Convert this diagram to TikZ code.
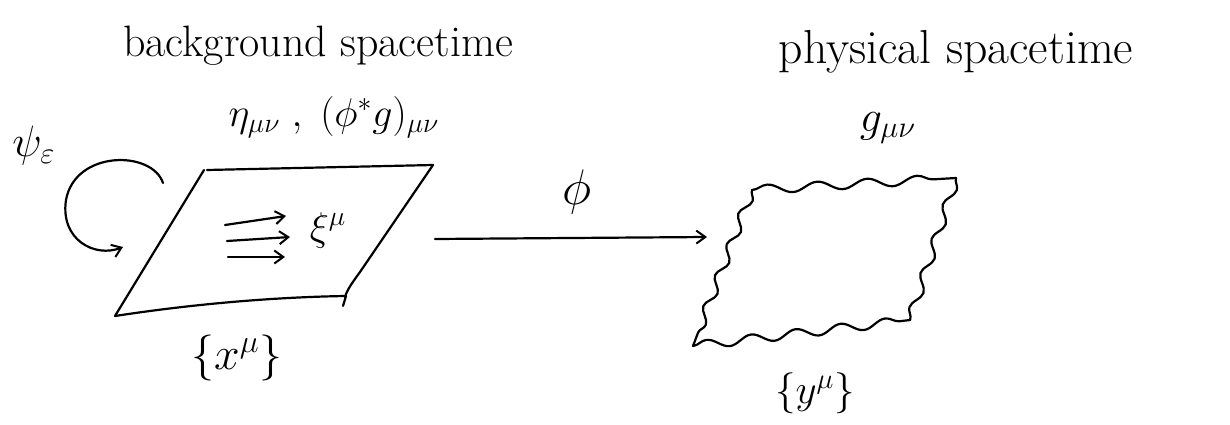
\documentclass[tikz,border=0pt]{standalone}
\usetikzlibrary{arrows.meta,decorations.pathmorphing}
\newcommand{\bigtxt}[2]{\scalebox{#1}{\huge #2}}
\begin{document}
\begin{tikzpicture}[x=1pt,y=-1pt,
  pen/.style={line width=2.2pt,line cap=round,line join=round},
  arr/.style={pen,-{Straight Barb[length=9pt,width=13pt,line width=2pt]}},
  lbl/.style={inner sep=0pt},
  wavy/.style={pen,decorate,decoration={snake,amplitude=4.5pt,segment length=#1}}]
\useasboundingbox (0,0) rectangle (1230,425);
% texts
\node[lbl] (bgtitle) at (318,46) {\bigtxt{2.12}{background spacetime}};
\node[lbl] (bgmetric) at (334,117) {\bigtxt{1.93}{$\eta_{\mu\nu}\;,\;(\phi^{*}g)_{\mu\nu}$}};
\node[lbl] (phtitle) at (956,52) {\bigtxt{2.3}{physical spacetime}};
\node[lbl] (phmetric) at (888,128) {\bigtxt{2.12}{$g_{\mu\nu}$}};
\node[lbl] (psi) at (34,146) {\bigtxt{2.12}{$\psi_{\varepsilon}$}};
\node[lbl] (xi) at (328,230) {\bigtxt{1.93}{$\xi^{\mu}$}};
\node[lbl] (xcoord) at (237,358) {\bigtxt{2.22}{$\{x^{\mu}\}$}};
\node[lbl] (ycoord) at (815,393) {\bigtxt{1.98}{$\{y^{\mu}\}$}};
\node[lbl] (philbl) at (577,192) {\bigtxt{2.41}{$\phi$}};
% left parallelogram
\coordinate (LTL) at (204,170);
\coordinate (LTR) at (433,165);
\coordinate (LBR) at (346,296);
\coordinate (LBL) at (115,316);
\draw[pen] (207,170) -- (LTR);
\draw[pen] (LTR) -- (360,272) .. controls (352,283) and (347,290) .. (345,297);
\draw[pen] (LBR) -- (343,306);
\draw[pen] (LBR) .. controls (280,297) and (200,303) .. (LBL);
\draw[pen] (LBL) -- (LTL);
% inner arrows
\coordinate (a1s) at (225,225); \coordinate (a1e) at (286,216);
\coordinate (a2s) at (227,241); \coordinate (a2e) at (290,237);
\coordinate (a3s) at (228,257); \coordinate (a3e) at (285,257);
\draw[arr] (a1s) -- (a1e);
\draw[arr] (a2s) -- (a2e);
\draw[arr] (a3s) -- (a3e);
% curved arrow
\coordinate (cs) at (163,183);
\coordinate (ce) at (123,247);
\draw[arr] (cs) .. controls (152,150) and (75,150) .. (66,200)
  .. controls (60,240) and (95,258) .. (ce);
% main arrow
\coordinate (ms) at (435,239);
\coordinate (me) at (707,237);
\draw[arr] (ms) -- (me);
% right wavy parallelogram
\coordinate (RTL) at (752,190);
\coordinate (RTR) at (956,178);
\coordinate (RBR) at (910,320);
\coordinate (RBL) at (693,346);
\draw[wavy=50pt] (RTL) -- (RTR);
\draw[wavy=36pt] (RTR) -- (RBR);
\draw[wavy=45pt] (RBL) -- (RBR);
\draw[wavy=33pt] (RTL) -- (RBL);
\end{tikzpicture}
\end{document}
